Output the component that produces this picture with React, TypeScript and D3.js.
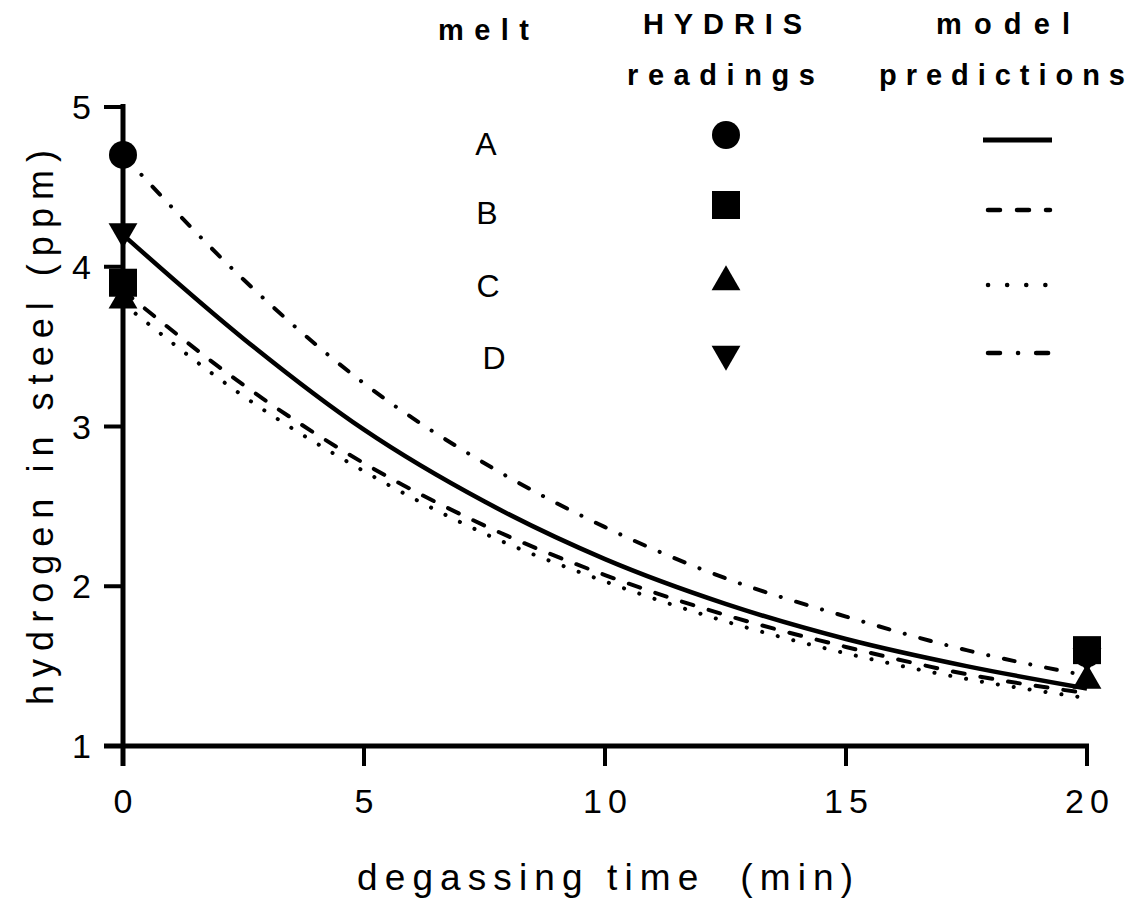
import React from "react";
import * as d3 from "d3";

// model prediction curves
const curveTimes = [0, 2.5, 5, 7.5, 10, 12.5, 15, 17.5, 20];
const modelA = [4.2, 3.55, 2.98, 2.53, 2.17, 1.89, 1.67, 1.5, 1.36];
const modelB = [3.85, 3.26, 2.77, 2.38, 2.07, 1.82, 1.62, 1.45, 1.33];
const modelC = [3.77, 3.19, 2.72, 2.33, 2.03, 1.78, 1.58, 1.42, 1.3];
const modelD = [4.7, 3.92, 3.27, 2.77, 2.37, 2.05, 1.81, 1.6, 1.44];

// HYDRIS readings
const readTimes = [0, 20];
const readA = [4.7, 1.58];
const readB = [3.9, 1.6];
const readC = [3.79, 1.41];
const readD = [4.22, 1.56];

const melts = ["A", "B", "C", "D"];
const xTicks = [0, 5, 10, 15, 20];
const yTicks = [1, 2, 3, 4, 5];

const x = d3.scaleLinear().domain([0, 20]).range([123, 1087]);
const y = d3.scaleLinear().domain([1, 5]).range([746, 107]);

const FONT = "'Liberation Sans', Arial, sans-serif";
const NARROW = "'Liberation Sans Narrow', 'Liberation Sans', Arial, sans-serif";

const dashes: Record<string, string | undefined> = {
  A: undefined,
  B: "12,16",
  C: "0.1,16",
  D: "11,16,0.1,16",
};
const legendDashes: Record<string, string | undefined> = {
  A: undefined,
  B: "12,17",
  C: "0.1,19",
  D: "12,18,0.1,18",
};

function Marker({ kind, cx, cy }: { kind: string; cx: number; cy: number }) {
  if (kind === "A") return <circle cx={cx} cy={cy} r={14} fill="#000" />;
  if (kind === "B") return <rect x={cx - 14} y={cy - 14} width={28} height={28} fill="#000" />;
  const s = d3.symbol().type(d3.symbolTriangle).size(360)();
  if (kind === "C") return <path d={s || ""} transform={`translate(${cx},${cy})`} fill="#000" />;
  return <path d={s || ""} transform={`translate(${cx},${cy}) rotate(180)`} fill="#000" />;
}

export default function App() {
  const line = d3
    .line<number>()
    .x((_, i) => x(curveTimes[i]))
    .y((d) => y(d))
    .curve(d3.curveMonotoneX);
  const models: Record<string, number[]> = { A: modelA, B: modelB, C: modelC, D: modelD };
  const reads: Record<string, number[]> = { A: readA, B: readB, C: readC, D: readD };
  const drawOrder = ["A", "C", "D", "B"];
  const legendY: Record<string, { text: number; mark: number; line: number; tx: number }> = {
    A: { text: 155, mark: 135, line: 140, tx: 486 },
    B: { text: 224, mark: 205, line: 210, tx: 487 },
    C: { text: 297, mark: 282, line: 285, tx: 488 },
    D: { text: 369, mark: 354, line: 353, tx: 494 },
  };

  const headers = [
    { t: "melt", x: 438, w: 91, y: 40 },
    { t: "HYDRIS", x: 643, w: 159, y: 34 },
    { t: "readings", x: 627, w: 188, y: 85 },
    { t: "model", x: 936, w: 134, y: 34 },
    { t: "predictions", x: 879, w: 246, y: 85 },
  ];

  return (
    <svg
      width={1130}
      height={899}
      style={{ position: "absolute", left: 0, top: 0, background: "#fff" }}
      fontFamily={FONT}
    >
      {/* model curves */}
      {melts.map((m) => (
        <path
          key={"c" + m}
          d={line(models[m]) || ""}
          fill="none"
          stroke="#000"
          strokeWidth={m === "A" ? 4.5 : 4}
          strokeDasharray={dashes[m]}
          strokeLinecap={m === "A" ? "butt" : "round"}
        />
      ))}

      {/* axes */}
      <line x1={123} x2={123} y1={104} y2={766} stroke="#000" strokeWidth={5} />
      <line x1={104} x2={1089} y1={746} y2={746} stroke="#000" strokeWidth={5} />
      {yTicks.map((t) => (
        <g key={"yt" + t}>
          <line x1={104} x2={123} y1={y(t)} y2={y(t)} stroke="#000" strokeWidth={4} />
          <text x={91} y={y(t) + 12} textAnchor="end" fontSize={34} fill="#000">
            {t}
          </text>
        </g>
      ))}
      {xTicks.map((t) => {
        const two = String(t).length > 1;
        return (
          <g key={"xt" + t}>
            <line x1={x(t)} x2={x(t)} y1={746} y2={766} stroke="#000" strokeWidth={4} />
            {two ? (
              <text
                x={x(t) - 22}
                y={813}
                fontSize={34}
                textLength={44}
                lengthAdjust="spacing"
                fill="#000"
              >
                {t}
              </text>
            ) : (
              <text x={x(t)} y={813} textAnchor="middle" fontSize={34} fill="#000">
                {t}
              </text>
            )}
          </g>
        );
      })}

      {/* readings */}
      {drawOrder.map((m) =>
        readTimes.map((t, i) => (
          <Marker key={m + i} kind={m} cx={x(t)} cy={y(reads[m][i])} />
        ))
      )}

      {/* axis titles */}
      <text
        x={357}
        y={890}
        fontSize={37}
        textLength={496}
        lengthAdjust="spacing"
        fill="#000"
        style={{ whiteSpace: "pre" }}
      >
        {"degassing time  (min)"}
      </text>
      <text
        transform="translate(53,705) rotate(-90)"
        fontSize={36}
        textLength={555}
        lengthAdjust="spacing"
        fill="#000"
      >
        hydrogen in steel (ppm)
      </text>

      {/* legend headers */}
      <g fontWeight="bold" fontSize={29} fill="#000" fontFamily={NARROW}>
        {headers.map((h) => (
          <text key={h.t} x={h.x} y={h.y} textLength={h.w} lengthAdjust="spacing">
            {h.t}
          </text>
        ))}
      </g>
      {melts.map((m) => (
        <g key={"lg" + m}>
          <text x={legendY[m].tx} y={legendY[m].text} textAnchor="middle" fontSize={32} fill="#000">
            {m}
          </text>
          <Marker kind={m} cx={726} cy={legendY[m].mark} />
          <line
            x1={m === "A" ? 983 : 988}
            x2={m === "A" ? 1052 : 1050}
            y1={legendY[m].line}
            y2={legendY[m].line}
            stroke="#000"
            strokeWidth={m === "A" ? 5 : 4.5}
            strokeDasharray={legendDashes[m]}
            strokeLinecap={m === "A" ? "butt" : "round"}
          />
        </g>
      ))}
    </svg>
  );
}
